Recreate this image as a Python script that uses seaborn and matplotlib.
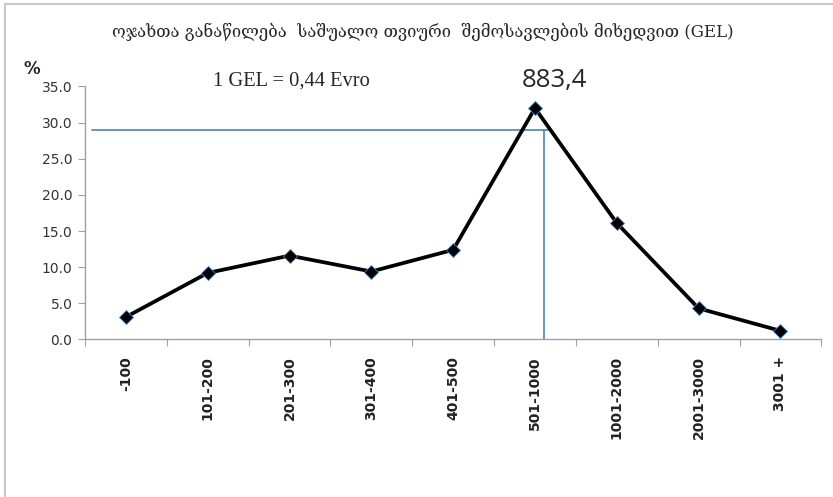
import matplotlib
matplotlib.use("Agg")
import matplotlib.pyplot as plt
from matplotlib.lines import Line2D
import numpy as np
import pandas as pd
import seaborn as sns

# income groups (GEL / month) and share of households, %
categories = ["-100", "101-200", "201-300", "301-400", "401-500",
              "501-1000", "1001-2000", "2001-3000", "3001 +"]
share = [3.1, 9.2, 11.6, 9.4, 12.4, 32.0, 16.1, 4.3, 1.2]
y_ticks = [0, 5, 10, 15, 20, 25, 30, 35]

# median marker (blue guide lines) and its label
median_level = 29.0
median_pos = 5.11
median_label = "883,4"
rate_note = "1 GEL = 0,44 Evro"
title = "ოჯახთა განაწილება  საშუალო თვიური  შემოსავლების მიხედვით (GEL)"

df = pd.DataFrame({"pos": np.arange(len(categories)), "share": share})

sns.set_style("white")
fig = plt.figure(figsize=(8.33, 4.97), dpi=100)
ax = fig.add_axes([0.102, 0.317, 0.884, 0.509])

ax.plot([-0.42, 5.2], [median_level, median_level], color="#4f81bd", lw=1.2, zorder=1)
ax.plot([median_pos, median_pos], [0, median_level], color="#4f81bd", lw=1.2, zorder=1)

sns.lineplot(data=df, x="pos", y="share", ax=ax, color="black", lw=2.7,
             marker="D", markersize=7, markeredgecolor="#4f81bd",
             markeredgewidth=0.6, zorder=3)

ax.set_xlim(-0.5, len(categories) - 0.5)
ax.set_ylim(0, 35)
ax.set_yticks(y_ticks)
ax.set_yticklabels([f"{v:.1f}" for v in y_ticks], fontsize=10, color="#333333")
ax.set_xticks(np.arange(len(categories) + 1) - 0.5)
ax.set_xticklabels([])
ax.set_xticks(np.arange(len(categories)), minor=True)
ax.set_xticklabels(categories, minor=True, rotation=90, fontsize=10,
                   fontweight="bold", color="#222222")
ax.tick_params(axis="x", which="major", length=5, color="#a0a0a0", direction="out", bottom=True)
ax.tick_params(axis="x", which="minor", length=0, pad=12)
ax.tick_params(axis="y", length=5, color="#a0a0a0", direction="out", left=True, pad=4)
ax.set_xlabel("")
ax.set_ylabel("")
for s in ["top", "right"]:
    ax.spines[s].set_visible(False)
for s in ["left", "bottom"]:
    ax.spines[s].set_color("#a0a0a0")
    ax.spines[s].set_linewidth(1.0)

fig.text(0.507, 0.935, title, ha="center", va="center", fontsize=12.0,
         family=["DejaVu Serif", "DejaVu Sans"])
fig.text(0.038, 0.862, "%", ha="center", va="center", fontsize=12, fontweight="bold")
fig.text(0.256, 0.837, rate_note, ha="left", va="center", fontsize=14.8,
         family="Liberation Serif")
fig.text(0.665, 0.839, median_label, ha="center", va="center", fontsize=18.5,
         family="Open Sans")

# chart-area border (left and top edges visible in the crop)
fig.add_artist(Line2D([0.006, 0.006], [0, 0.992], color="#c8c8c8", lw=1.5))
fig.add_artist(Line2D([0.006, 1.0], [0.992, 0.992], color="#c8c8c8", lw=1.5))

fig.savefig("out.png", dpi=100)
